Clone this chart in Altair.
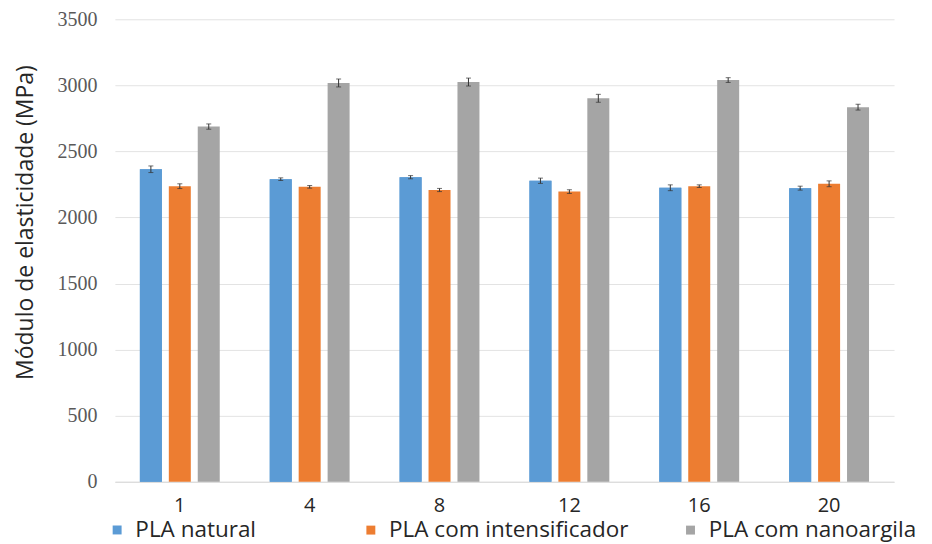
import altair as alt
import pandas as pd

groups = ["1", "4", "8", "12", "16", "20"]
series = ["PLA natural", "PLA com intensificador", "PLA com nanoargila"]
natural = [2365, 2290, 2305, 2278, 2225, 2222]
intens = [2237, 2232, 2208, 2196, 2237, 2255]
nano = [2688, 3018, 3025, 2902, 3040, 2835]
err_natural = [25, 10, 12, 20, 22, 15]
err_intens = [18, 10, 12, 14, 10, 22]
err_nano = [20, 30, 30, 30, 18, 22]
colors = ["#5B9BD5", "#ED7D31", "#A5A5A5"]

rows = []
for vals, errs, s in [(natural, err_natural, series[0]), (intens, err_intens, series[1]), (nano, err_nano, series[2])]:
    for g, v, e in zip(groups, vals, errs):
        rows.append({"grupo": g, "serie": s, "valor": v, "lo": v - e, "hi": v + e})
df = pd.DataFrame(rows)

LEG_FONT = 22.5

xenc = alt.X("grupo:N", sort=groups, title=None,
             scale=alt.Scale(paddingInner=0.385, paddingOuter=0.1925),
             axis=alt.Axis(labelAngle=0, labelFont="Open Sans", labelFontSize=20, labelColor="#262626",
                           labelPadding=14, ticks=False, domainColor="#d9d9d9", domainWidth=1))
xoff = alt.XOffset("serie:N", sort=series,
                   scale=alt.Scale(domain=series, paddingInner=0.24, paddingOuter=0))
yenc = alt.Y("valor:Q", title="Módulo de elasticidade (MPa)",
             scale=alt.Scale(domain=[0, 3500], nice=False),
             axis=alt.Axis(values=[0, 500, 1000, 1500, 2000, 2500, 3000, 3500], format="d",
                           domain=False, ticks=False,
                           labelFont="Liberation Serif", labelFontSize=20, labelColor="#595959",
                           labelPadding=18, gridColor="#e3e3e3", gridWidth=1,
                           titleFont="Open Sans", titleFontSize=23, titleColor="#262626",
                           titleFontWeight="normal", titleX=-77, titleY=203))

# orange + gray legend
bars = alt.Chart(df).mark_bar().encode(
    x=xenc,
    xOffset=xoff,
    y=yenc,
    color=alt.Color("serie:N", sort=series, scale=alt.Scale(domain=series, range=colors),
                    legend=alt.Legend(title=None, orient="none", direction="horizontal",
                                      values=series[1:],
                                      legendX=245, legendY=500, symbolType="square", symbolSize=80,
                                      symbolStrokeWidth=0, labelFont="Open Sans", labelFontSize=LEG_FONT,
                                      labelColor="#262626", labelOffset=7, columnPadding=50,
                                      labelLimit=600)),
)

# blue series drawn again with its own legend entry
blue = alt.Chart(df).transform_filter(alt.datum.serie == series[0]).mark_bar().encode(
    x=alt.X("grupo:N", sort=groups),
    xOffset=xoff,
    y=alt.Y("valor:Q"),
    fill=alt.Fill("serie:N", scale=alt.Scale(domain=series[:1], range=colors[:1]),
                  legend=alt.Legend(title=None, orient="none", direction="horizontal",
                                    legendX=-9, legendY=500, symbolType="square", symbolSize=80,
                                    symbolStrokeWidth=0, labelFont="Open Sans", labelFontSize=LEG_FONT,
                                    labelColor="#262626", labelOffset=7, labelLimit=600)),
)

rules = alt.Chart(df).mark_rule(color="#333333", strokeWidth=1).encode(
    x=alt.X("grupo:N", sort=groups),
    xOffset=xoff,
    y="lo:Q",
    y2="hi:Q",
)
caps_hi = alt.Chart(df).mark_tick(color="#333333", thickness=1, size=5).encode(
    x=alt.X("grupo:N", sort=groups), xOffset=xoff, y="hi:Q")
caps_lo = alt.Chart(df).mark_tick(color="#333333", thickness=1, size=5).encode(
    x=alt.X("grupo:N", sort=groups), xOffset=xoff, y="lo:Q")

chart = alt.layer(bars, blue, rules, caps_hi, caps_lo).properties(
    width=780, height=463,
    autosize=alt.AutoSizeParams(type="none"),
    padding={"left": 107, "top": 11, "right": 30, "bottom": 62},
).configure_view(stroke=None)

chart.save("out.html", embed_options={"renderer": "svg", "actions": False})
